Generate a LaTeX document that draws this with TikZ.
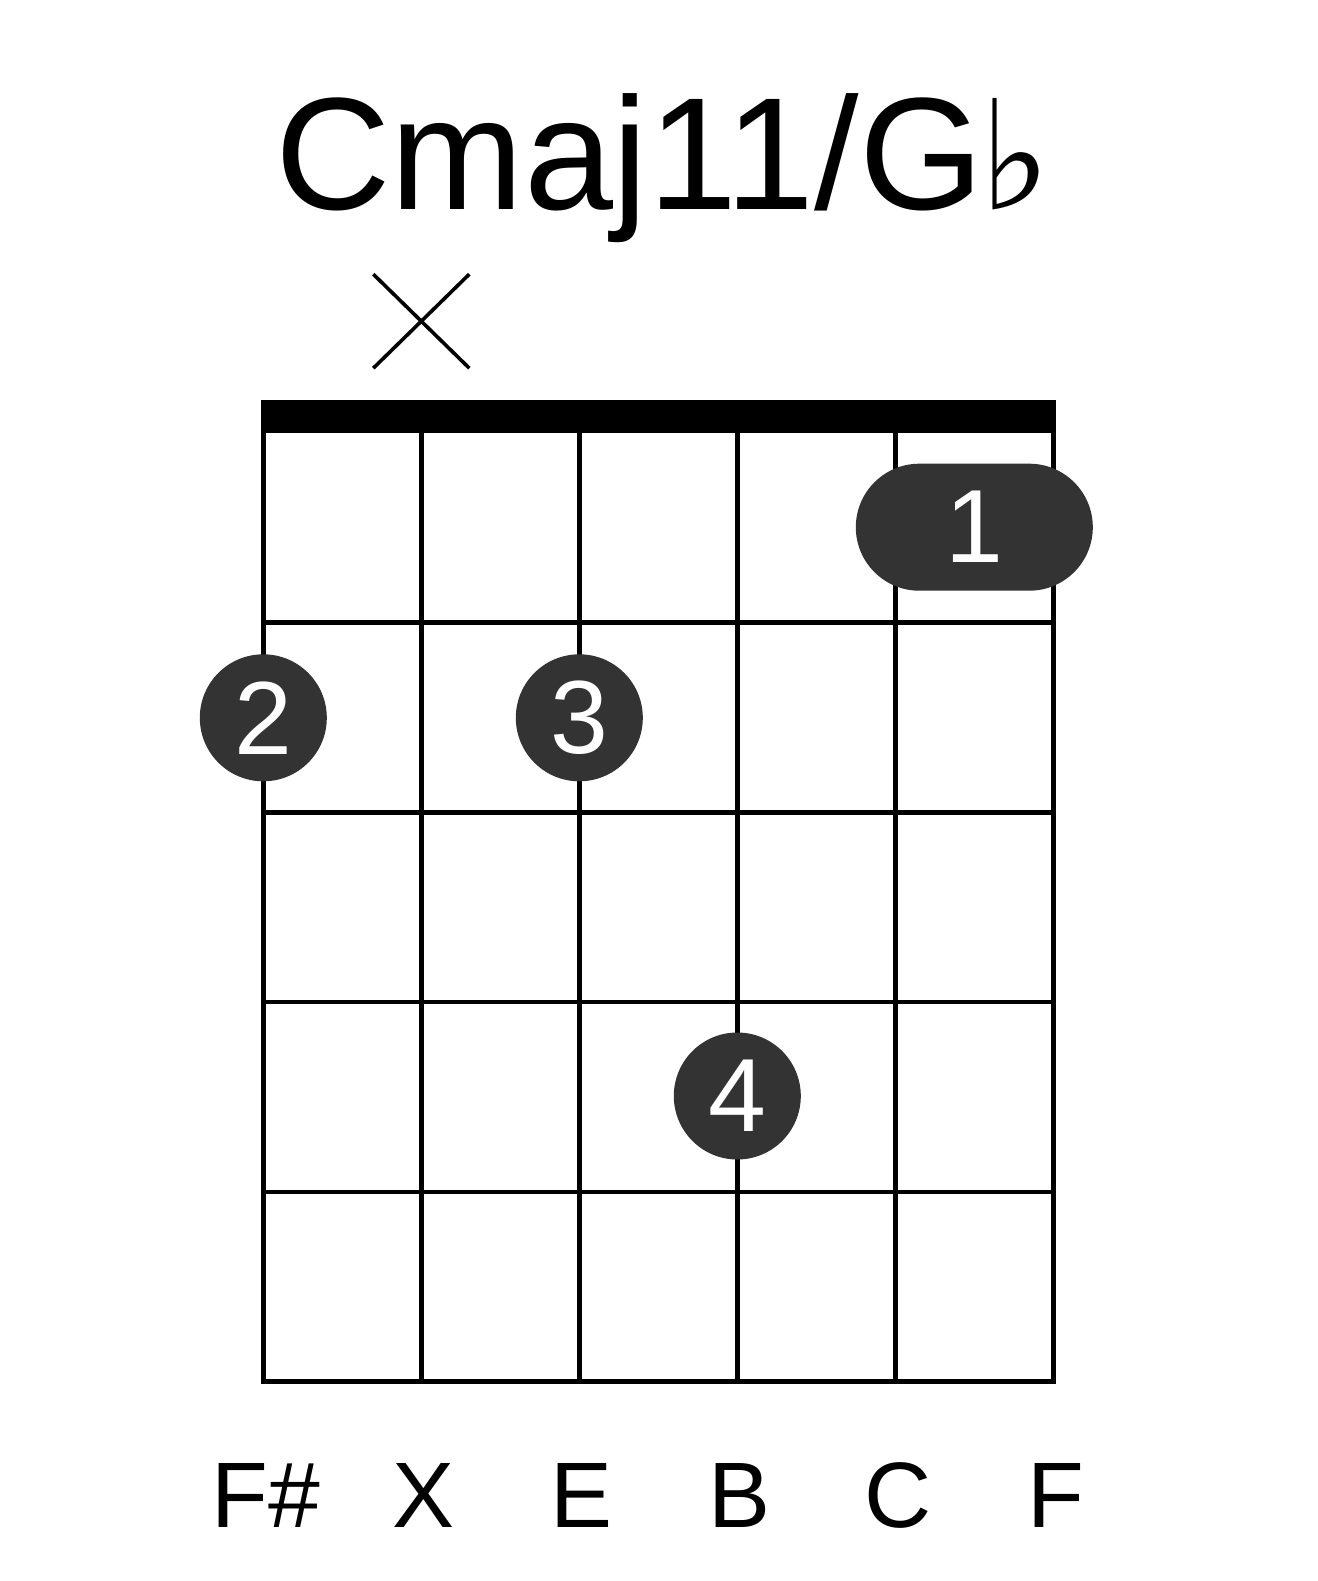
\documentclass[tikz,border=0pt]{standalone}
\usepackage{fontspec}
\setmainfont{Liberation Sans}
\newfontfamily\simboli{DejaVu Sans}
\usepackage{tikz}
\usetikzlibrary{positioning, calc}
\usetikzlibrary{shapes.misc}
\definecolor{grigioscuro}{HTML}{333333}

\begin{document}
\begin{tikzpicture}[x = 1pt, y = -1pt,
    corda/.style = {line width = 4.5pt, line cap = rect},
    croce/.style = {line width = 3.6pt},
    dito/.style = {circle, fill = grigioscuro, text = white, inner sep = 0pt,
        minimum size = 127pt, font = \fontsize{104}{104}\selectfont},
    barre/.style = {rounded rectangle, fill = grigioscuro, text = white, inner sep = 0pt,
        minimum width = 237pt, minimum height = 127pt, font = \fontsize{104}{104}\selectfont},
    nota/.style = {anchor = base, inner sep = 0pt, font = \fontsize{93}{93}\selectfont}]

    \useasboundingbox (0,0) rectangle (1317,1581);

    % Titolo
    \node[anchor = base west, inner sep = 0pt, font = \fontsize{160}{160}\selectfont]
        (titolo) at (275,209) {Cmaj11/G};
    \node[anchor = base west, inner sep = 0pt, font = \simboli\fontsize{152}{152}\selectfont]
        (bemolle) at (979,209) {♭};

    % Corda muta
    \coordinate (muta) at (421.3,321.2);
    \draw[croce] ($(muta)+(-48,-47)$) -- ($(muta)+(48,47)$);
    \draw[croce] ($(muta)+(48,-47)$) -- ($(muta)+(-48,47)$);

    % Capotasto
    \fill (260.7,400) rectangle (1056,432.7);

    % Corde
    \foreach \i in {0,...,5} {
        \draw[corda] (263.3+158*\i,432.7) -- (263.3+158*\i,1381.7);
    }

    % Tasti
    \foreach \k in {1,...,5} {
        \draw[corda] (263.3,432.7+189.8*\k) -- (1053.3,432.7+189.8*\k);
    }

    % Dita
    \node[barre] (d1) at (974.3,527.2) {1};
    \node[dito] (d2) at (263.3,717.8) {2};
    \node[dito] (d3) at (579.3,717.8) {3};
    \node[dito] (d4) at (737.3,1096) {4};

    % Note
    \foreach \nome [count = \i from 0] in {F\#, X, E, B, C, F} {
        \node[nota] (n\i) at (266+158*\i,1527) {\nome};
    }

\end{tikzpicture}
\end{document}
